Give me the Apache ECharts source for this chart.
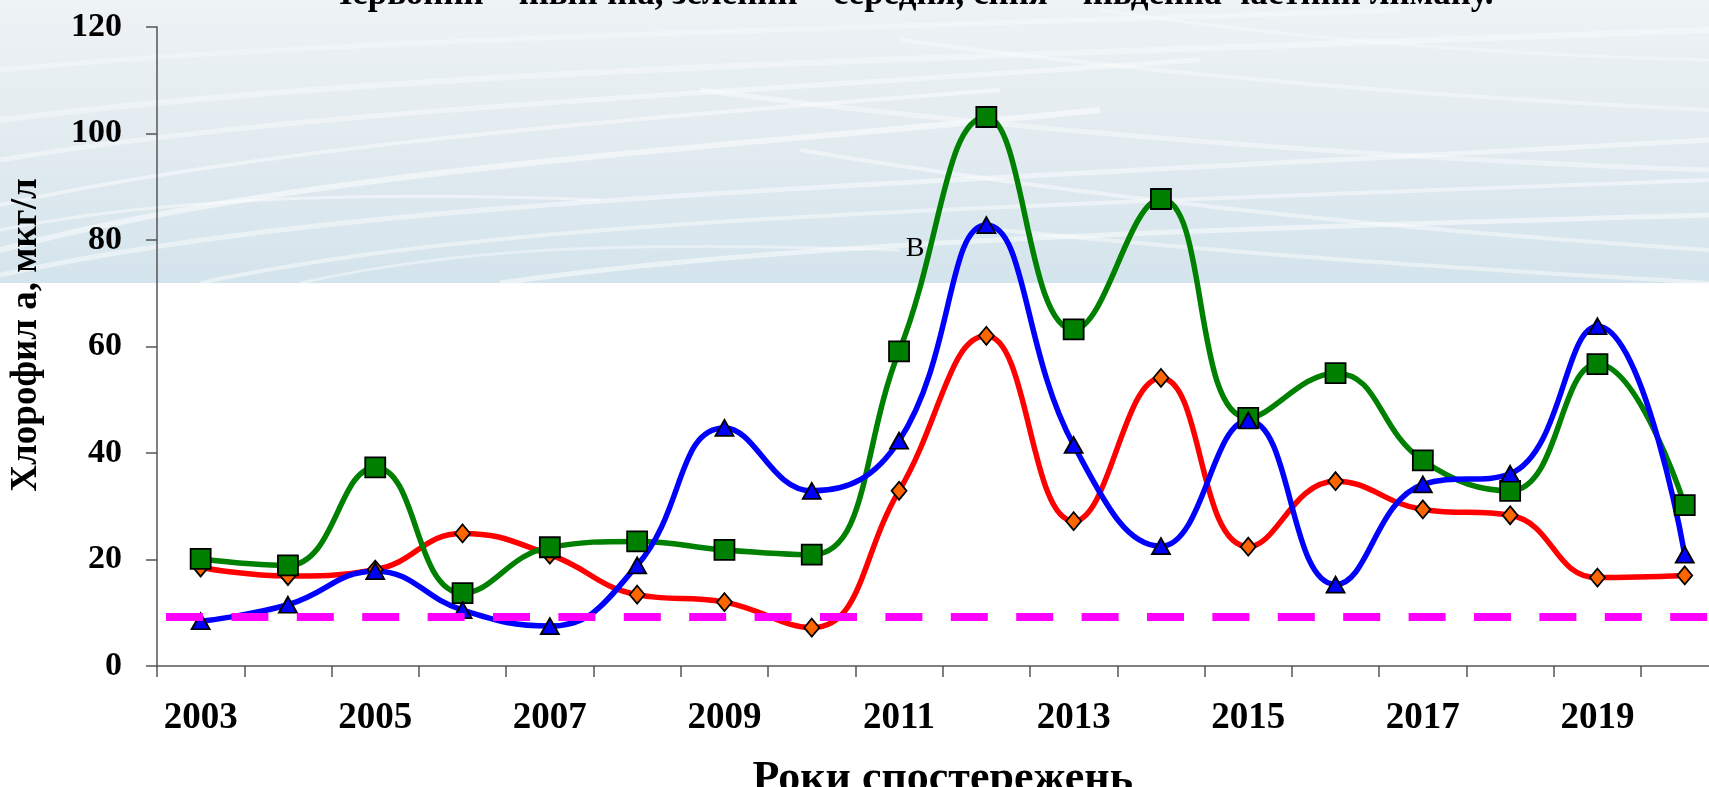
<!DOCTYPE html>
<html>
<head>
<meta charset="utf-8">
<script src="https://cdn.jsdelivr.net/npm/echarts@6/dist/echarts.min.js"></script>
<style>
  html, body { margin: 0; padding: 0; background: #fff; }
  #chart { width: 1709px; height: 787px; }
</style>
</head>
<body>
<div id="chart"></div>
<script>
// Years of observation
const years = ['2003', '2004', '2005', '2006', '2007', '2008', '2009', '2010', '2011',
  '2012', '2013', '2014', '2015', '2016', '2017', '2018', '2019', '2020'];

// Chlorophyll a, µg/l — northern (red), middle (green), southern (blue) part of the estuary
const northPart = [18.5, 16.9, 18.1, 24.9, 20.9, 13.4, 12.0, 7.2, 32.9, 62.0, 27.2, 54.1, 22.4, 34.7, 29.4, 28.3, 16.6, 17.0];
const middlePart = [20.1, 18.9, 37.3, 13.7, 22.3, 23.4, 21.8, 20.9, 59.1, 103.1, 63.2, 87.7, 46.6, 55.0, 38.6, 32.9, 56.7, 30.2];
const southPart = [8.4, 11.5, 17.8, 10.5, 7.5, 18.9, 44.7, 32.9, 42.3, 82.8, 41.5, 22.5, 46.1, 15.3, 34.1, 36.1, 63.8, 20.9];

// Reference level drawn as a dashed horizontal line
const referenceLevel = 9.3;

// Value axis ticks
const yTicks = { min: 0, max: 120, interval: 20 };

const SERIF = '"Liberation Serif", "DejaVu Serif", serif';

// Decorative wave texture in the header band
const waveCurves = [
  [0, 250, 300, 170, 700, 150, 1100, 110, 6, 0.5],
  [0, 275, 350, 200, 800, 190, 1709, 140, 5, 0.45],
  [0, 205, 250, 150, 600, 120, 1000, 90, 4, 0.45],
  [0, 160, 300, 110, 700, 95, 1200, 60, 5, 0.4],
  [0, 120, 400, 70, 900, 60, 1709, 30, 6, 0.35],
  [0, 70, 300, 40, 800, 30, 1400, 10, 5, 0.3],
  [200, 283, 500, 220, 900, 210, 1709, 180, 4, 0.45],
  [500, 283, 800, 240, 1200, 230, 1709, 215, 5, 0.5],
  [800, 150, 1100, 200, 1400, 230, 1709, 250, 4, 0.45],
  [700, 90, 1000, 130, 1400, 160, 1709, 170, 5, 0.4],
  [900, 40, 1200, 80, 1500, 100, 1709, 110, 4, 0.35],
  [1000, 230, 1300, 260, 1500, 270, 1709, 283, 4, 0.45],
  [300, 283, 450, 250, 600, 240, 900, 250, 3, 0.4],
  [0, 230, 150, 200, 350, 190, 600, 200, 3, 0.45],
  [1100, 10, 1300, 40, 1500, 55, 1709, 60, 3, 0.3]
];

const graphicElements = [
  {
    type: 'rect', silent: true, z: -20,
    shape: { x: 0, y: 0, width: 1709, height: 283 },
    style: {
      fill: new echarts.graphic.LinearGradient(0, 0, 0, 1, [
        { offset: 0, color: '#eef3f5' },
        { offset: 0.5, color: '#e2ebf0' },
        { offset: 1, color: '#d4e4ec' }
      ])
    }
  }
];
waveCurves.forEach(function (w) {
  graphicElements.push({
    type: 'bezierCurve', silent: true, z: -19,
    shape: { x1: w[0], y1: w[1], cpx1: w[2], cpy1: w[3], cpx2: w[4], cpy2: w[5], x2: w[6], y2: w[7] },
    style: { stroke: '#ffffff', lineWidth: w[8], opacity: w[9], fill: null }
  });
});
// Header band ends with a sharp edge
graphicElements.push({
  type: 'rect', silent: true, z: -18,
  shape: { x: 0, y: 283, width: 1709, height: 504 },
  style: { fill: '#ffffff' }
});
// Caption line at the top (partly outside the canvas)
graphicElements.push({
  type: 'text', silent: true, z: 10,
  style: {
    text: 'Червоний – північна, зелений – середня, синя – південна частини лиману.',
    x: 910, y: -4.7, textAlign: 'center', textVerticalAlign: 'middle',
    font: 'bold 35px ' + SERIF, fill: '#000'
  }
});
// Letter marker next to the 2011–2012 rise
graphicElements.push({
  type: 'text', silent: true, z: 10,
  style: {
    text: 'В', x: 915, y: 249, textAlign: 'center', textVerticalAlign: 'middle',
    font: '28px ' + SERIF, fill: '#000'
  }
});

const chart = echarts.init(document.getElementById('chart'), null, { renderer: 'canvas' });

function lineSeries(name, data, color, symbol, symbolSize, fill) {
  return {
    name: name,
    type: 'line',
    data: data,
    smooth: 0.45,
    showSymbol: true,
    showAllSymbol: true,
    symbol: symbol,
    symbolSize: symbolSize,
    lineStyle: { color: color, width: 5.5 },
    itemStyle: { color: fill, borderColor: '#000', borderWidth: 1.8 },
    emphasis: { disabled: true },
    z: 3
  };
}

chart.setOption({
  animation: false,
  backgroundColor: 'transparent',
  graphic: { elements: graphicElements },
  grid: {
    left: 157, top: 27, width: 1571.4, height: 639,
    containLabel: false,
    outerBoundsMode: 'none'
  },
  xAxis: {
    type: 'category',
    data: years,
    boundaryGap: true,
    axisLine: { lineStyle: { color: '#555', width: 1.5 } },
    axisTick: { show: true, interval: 0, length: 11, lineStyle: { color: '#555', width: 1.5 } },
    axisLabel: {
      interval: 1, margin: 34,
      fontFamily: SERIF, fontWeight: 'bold', fontSize: 37, color: '#000'
    },
    name: 'Роки спостережень',
    nameLocation: 'middle',
    nameGap: 92,
    nameTextStyle: {
      fontFamily: SERIF, fontWeight: 'bold', fontSize: 44, color: '#000'
    },
    splitLine: { show: false }
  },
  yAxis: {
    type: 'value',
    min: yTicks.min, max: yTicks.max, interval: yTicks.interval,
    axisLine: { show: true, lineStyle: { color: '#555', width: 1.5 } },
    axisTick: { show: true, length: 11, lineStyle: { color: '#555', width: 1.5 } },
    axisLabel: {
      margin: 35,
      fontFamily: SERIF, fontWeight: 'bold', fontSize: 34, color: '#000'
    },
    splitLine: { show: false },
    name: 'Хлорофил а, мкг/л',
    nameLocation: 'middle',
    nameRotate: 90,
    nameGap: 112,
    nameTextStyle: {
      fontFamily: SERIF, fontWeight: 'bold', fontSize: 37, color: '#000',
      padding: [0, 0, 0, 23]
    }
  },
  series: [
    lineSeries('північна', northPart, '#ff0000', 'diamond', [15, 18], '#ff6600'),
    lineSeries('середня', middlePart, '#008000', 'rect', 20, '#008000'),
    lineSeries('південна', southPart, '#0000ff', 'triangle', [18, 16], '#0000ff'),
    {
      name: 'рівень',
      type: 'line',
      data: [],
      z: 6,
      markLine: {
        silent: true,
        symbol: 'none',
        label: { show: false },
        data: [{ yAxis: referenceLevel }],
        lineStyle: { color: '#ff00ff', width: 8, type: [37, 28.4], dashOffset: 56.4 },
        emphasis: { disabled: true }
      }
    }
  ]
});
</script>
</body>
</html>
